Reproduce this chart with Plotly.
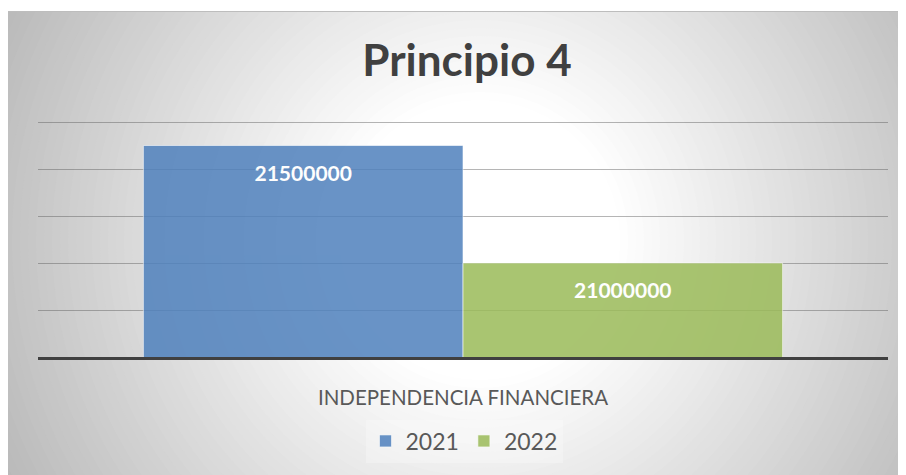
import plotly.graph_objects as go

# ---- data ----
categories = ["INDEPENDENCIA FINANCIERA"]
series_names = ["2021", "2022"]
values_2021 = [21500000]
values_2022 = [21000000]
y_range = [20600000, 21600000]
y_step = 200000
title_text = "Principio 4"

W, H = 906, 475
OFF = 8  # page body margin: screen px = figure px + 8


def px_x(sx):
    return (sx - OFF) / W


def px_y(sy):
    return 1 - (sy - OFF) / H


# axis: 235 px per 1,000,000 ; extend top slightly so the top gridline is kept
px_per_unit = (357 - 122) / (y_range[1] - y_range[0])
y_pad = 10000
y_top_px = 122 - y_pad * px_per_unit

label_tpl = ("<span style='color:rgba(0,0,0,0);font-size:5px'>.</span>"
             "<br>%{y:.0f}")

fig = go.Figure()
fig.add_trace(go.Bar(
    name=series_names[0], x=categories, y=values_2021,
    marker=dict(color="rgb(79,129,189)", line=dict(color="rgba(255,255,255,0.6)", width=1)),
    opacity=0.85,
    texttemplate=label_tpl, textposition="inside", insidetextanchor="end",
    textfont=dict(family="Lato", size=21, color="white", weight="bold"),
))
fig.add_trace(go.Bar(
    name=series_names[1], x=categories, y=values_2022,
    marker=dict(color="rgb(155,187,89)", line=dict(color="rgba(255,255,255,0.6)", width=1)),
    opacity=0.85,
    texttemplate=label_tpl, textposition="inside", insidetextanchor="end",
    textfont=dict(family="Lato", size=21, color="white", weight="bold"),
))

# ---- radial gradient background made of concentric circles ----
shapes = []
cx, cy = 472, 232
r_white, slope = 140, 57 / 320
r = 580
while r >= r_white:
    drop = max(0, r - r_white) * slope
    g = int(round(255 - drop))
    shapes.append(dict(
        type="circle", xref="paper", yref="paper", layer="below",
        x0=(cx - r) / W, x1=(cx + r) / W, y0=1 - (cy + r) / H, y1=1 - (cy - r) / H,
        fillcolor=f"rgb({g},{g},{g})", line=dict(width=0),
    ))
    r -= 8
# thin white strip and border line at the top
shapes.append(dict(type="rect", xref="paper", yref="paper", layer="below",
                   x0=-0.1, x1=1.1, y0=1 - 3 / H, y1=1.1, fillcolor="white", line=dict(width=0)))
shapes.append(dict(type="line", xref="paper", yref="paper", layer="below",
                   x0=0, x1=1.0, y0=1 - 3.5 / H, y1=1 - 3.5 / H,
                   line=dict(color="#bdbdbd", width=1)))

fig.update_layout(
    width=W, height=H,
    margin=dict(l=0, r=0, t=0, b=0),
    paper_bgcolor="#c8c8c8", plot_bgcolor="rgba(0,0,0,0)",
    barmode="group", bargap=0.248, bargroupgap=0,
    shapes=shapes,
    title=dict(text=title_text, x=px_x(467), xanchor="center", y=px_y(61), yanchor="middle",
               font=dict(family="Lato", size=44, color="#404040", weight="bold")),
    legend=dict(orientation="h", x=px_x(464), xanchor="center", y=px_y(441), yanchor="middle",
                font=dict(family="Lato", size=23, color="#595959"),
                bgcolor="rgba(255,255,255,0.25)", itemwidth=30),
    xaxis=dict(domain=[px_x(38), px_x(888)], showline=True, linecolor="#404040", linewidth=3,
               ticks="outside", ticklen=20, tickcolor="rgba(0,0,0,0)",
               tickfont=dict(family="Lato", size=20.5, color="#595959"),
               showgrid=False),
    yaxis=dict(domain=[px_y(357), px_y(y_top_px)], range=[y_range[0], y_range[1] + y_pad],
               dtick=y_step, tick0=y_range[0],
               showticklabels=False, showgrid=True, gridcolor="rgba(90,90,90,0.45)", gridwidth=1,
               zeroline=False),
    showlegend=True,
)

fig.write_html("out.html")
